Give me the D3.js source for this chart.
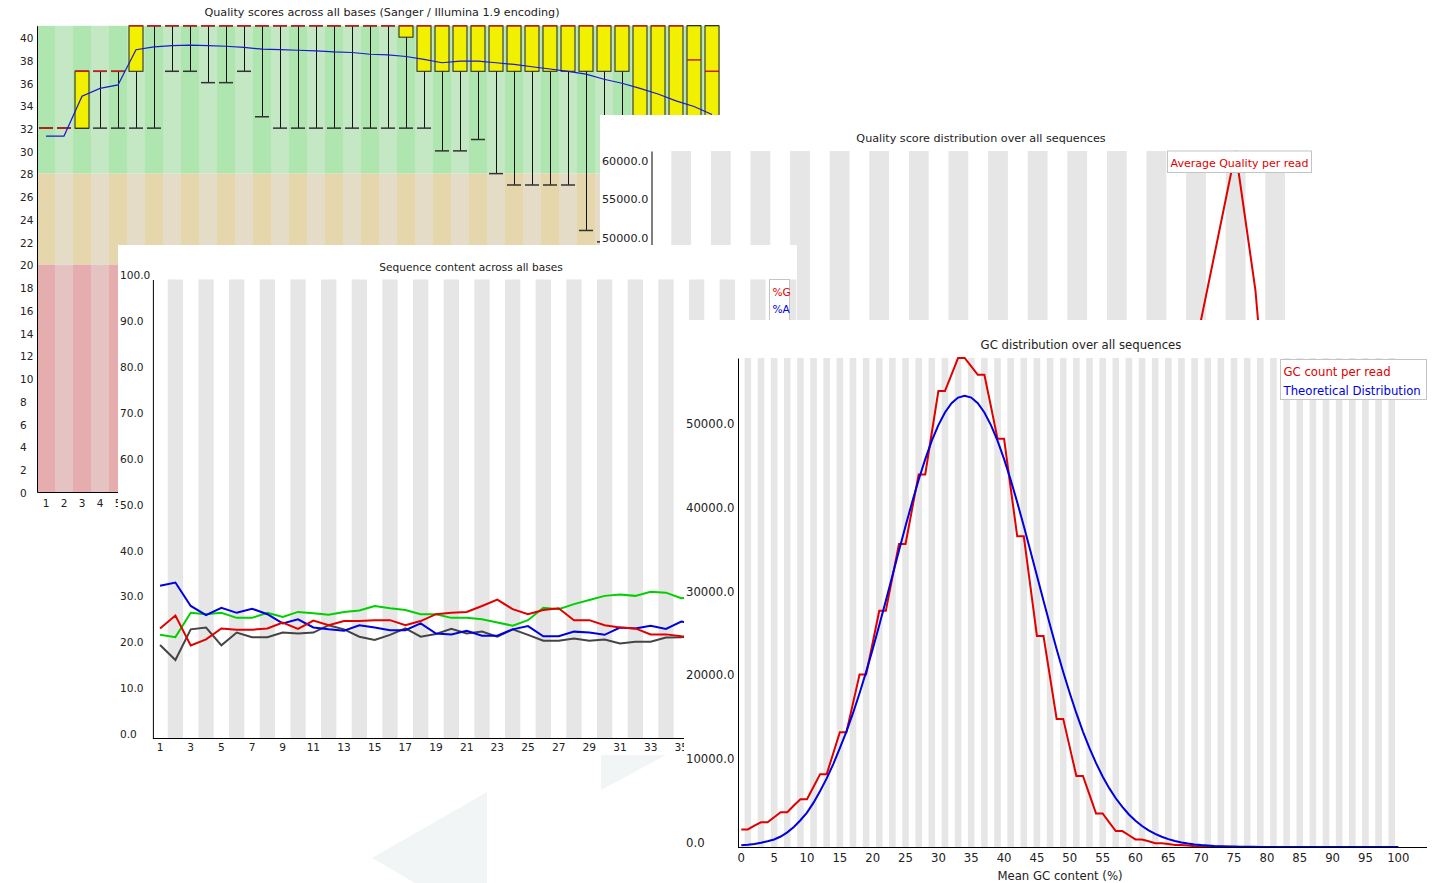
<!DOCTYPE html>
<html>
<head>
<meta charset="utf-8">
<title>FastQC panels</title>
<script src="https://d3js.org/d3.v7.min.js"></script>
<style>
  body { margin: 0; background: #fff; }
  svg text { font-family: "DejaVu Sans", sans-serif; fill: #222; }
</style>
</head>
<body>
<div id="chart"></div>
<script>
/* * * * * * * * * * * * * * * * * * *
*  values  *
* * * * * * * * * * * * * * * * * * */

// per base sequence quality (box / whisker per base)
const baseLabels = [1,2,3,4,5,6,7,8,9,10,11,12,13,14,15,16,17,18,19,20,21,22,23,24,25,26,27,28,29,30,31,32,33,34,35,36,37,38];
const qualMedian = [32,32,37,37,37,41,41,41,41,41,41,41,41,41,41,41,41,41,41,41,41,41,41,41,41,41,41,41,41,41,41,41,41,41,41,41,38,37];
const qualLower  = [32,32,32,37,37,37,41,41,41,41,41,41,41,41,41,41,41,41,41,41,40,37,37,37,37,37,37,37,37,37,37,37,37,31,30,28,27,25];
const qualUpper  = [32,32,37,37,37,41,41,41,41,41,41,41,41,41,41,41,41,41,41,41,41,41,41,41,41,41,41,41,41,41,41,41,41,41,41,41,41,41];
const qualP10    = [32,32,32,32,32,32,32,37,37,36,36,37,33,32,32,32,32,32,32,32,32,32,30,30,31,28,27,27,27,27,23,22,20,18,15,12,10,8];
const qualP90    = [32,32,37,37,37,41,41,41,41,41,41,41,41,41,41,41,41,41,41,41,41,41,41,41,41,41,41,41,41,41,41,41,41,41,41,41,41,41];
const qualMean   = [31.3,31.3,34.8,35.5,35.8,38.9,39.15,39.25,39.3,39.25,39.2,39.1,38.95,38.9,38.85,38.8,38.7,38.65,38.5,38.45,
                    38.3,38.05,37.75,37.9,37.9,37.75,37.6,37.4,37.2,37.0,36.75,36.3,35.95,35.5,35.0,34.4,33.9,33.2];
const qualTicks  = [0,2,4,6,8,10,12,14,16,18,20,22,24,26,28,30,32,34,36,38,40];
const qualXTicks = [1,2,3,4,5];   // the rest sit under the other windows

// per sequence quality scores
const seqQualScores = [9,10,11,12,13,14,15,16,17,18,19,20,21,22,23,24,25,26,27,28,29,30,31,32,33,34,35,36,37,38,39,40,41];
const seqQualCounts = [0,0,0,5,10,20,40,80,150,260,420,650,950,1350,1900,2600,3500,4600,6000,7700,9800,12400,15500,19200,23600,28500,33000,
                       36700,49200,61800,43750,14150,1500];
const seqQualTicks  = [50000,55000,60000];

// per base sequence content (%)
const contentPos = [1,2,3,4,5,6,7,8,9,10,11,12,13,14,15,16,17,18,19,20,21,22,23,24,25,26,27,28,29,30,31,32,33,34,35,36,37,38,39,40,41,42];
const pctG = [23.9,26.7,20.2,21.5,23.9,23.6,23.6,23.9,25.2,23.8,25.6,24.6,25.5,25.5,25.7,25.7,24.6,25.5,27.0,27.3,27.5,28.8,30.2,28.1,27.0,
              27.9,28.3,25.7,25.7,24.6,24.1,23.9,22.6,22.6,22.2,22.0,21.8,21.5,21.9,22.3,22.0,21.7];
const pctA = [33.2,33.9,28.8,26.8,28.4,27.3,28.2,27.0,25.0,25.9,24.1,23.7,23.4,24.6,24.1,23.5,23.5,25.0,22.8,22.6,23.4,22.3,22.3,23.7,24.4,
              22.2,22.2,23.2,23.0,22.5,24.1,23.9,24.5,23.8,25.4,24.8,25.1,24.6,25.0,24.7,25.2,25.0];
const pctT = [22.5,22.0,27.3,27.0,27.3,26.2,26.2,27.3,26.4,27.5,27.2,26.9,27.5,27.8,28.8,28.3,27.9,27.0,27.0,26.2,26.2,25.9,25.2,24.5,25.7,
              28.4,28.1,29.2,30.1,31.0,31.3,31.0,31.9,31.7,30.5,30.8,31.2,31.5,30.9,31.1,30.6,30.8];
const pctC = [20.3,17.0,23.7,24.1,20.2,23.0,22.0,22.0,23.0,22.8,23.0,24.6,23.7,22.1,21.4,22.5,23.9,22.1,22.7,23.8,22.8,23.2,22.1,23.7,22.5,
              21.2,21.2,21.7,21.2,21.5,20.6,21.0,21.0,21.9,22.0,22.4,21.9,22.4,22.2,21.9,22.2,22.5];
const contentTicks  = [0,10,20,30,40,50,60,70,80,90,100];
const contentXTicks = [1,3,5,7,9,11,13,15,17,19,21,23,25,27,29,31,33,35];

// per sequence GC content
const gcPercent = [0,1,2,3,4,5,6,7,8,9,10,11,12,13,14,15,16,17,18,19,20,21,22,23,24,25,26,27,28,29,30,31,32,33,34,35,36,37,38,39,40,
                   41,42,43,44,45,46,47,48,49,50,51,52,53,54,55,56,57,58,59,60,61,62,63,64,65,66,67,68,69,70,71,72,73,74,75,76,77,78,79,80,
                   81,82,83,84,85,86,87,88,89,90,91,92,93,94,95,96,97,98,99,100];
const gcCount = [2100,2100,2550,2950,2950,3550,4150,4150,4950,5700,5700,7200,8700,8700,11200,13700,13700,17150,20600,20600,24400,
                 28200,28200,32200,36200,36200,40350,44500,44500,49500,54450,54450,56400,58400,58400,57400,56400,56400,52600,48750,48750,
                 42900,37100,37100,31150,25200,25200,20250,15300,15300,11900,8480,8480,6250,4000,4000,2950,1900,1900,1400,900,
                 900,680,450,450,350,250,250,170,100,100,60,30,30,20,10,10,5,0,0,0,
                 0,0,0,0,0,0,0,0,0,0,0,0,0,0,0,0,0,0,0,0];
const gcTheory = [200,270,370,500,680,900,1250,1750,2400,3200,4100,5300,6700,8200,9900,11800,13780,15980,18360,20910,23620,
                  26470,29400,32390,35380,38330,41170,43860,46320,48520,50390,51900,53000,53670,53900,53670,53000,51900,50390,48520,46320,
                  43860,41170,38330,35380,32390,29400,26470,23620,20910,18360,15980,13780,11800,10010,8420,7030,5820,4780,3880,3130,
                  2510,1990,1560,1220,940,720,550,420,310,230,170,120,90,60,45,30,20,15,10,7,
                  5,3,0,0,0,0,0,0,0,0,0,0,0,0,0,0,0,0,0,0];
const gcXTicks = [0,5,10,15,20,25,30,35,40,45,50,55,60,65,70,75,80,85,90,95,100];
const gcYTicks = [0,10000,20000,30000,40000,50000];


let svg = d3.select("#chart").append("svg")
    .attr("width", 1438)
    .attr("height", 883);
let defs = svg.append("defs");

svg.append("rect").attr("width", 1438).attr("height", 883).attr("fill", "#fff");

// faint page watermark peeking out between the windows
svg.append("polygon").attr("points", "601,755 666,755 601,790").attr("fill", "#f2f5f6");
svg.append("polygon").attr("points", "487,792 372,858 415,883 487,883").attr("fill", "#f2f5f6");
svg.append("rect").attr("x", 1436).attr("y", 780).attr("width", 2).attr("height", 75).attr("fill", "#e2e2e2");
svg.append("rect").attr("x", 1436).attr("y", 855).attr("width", 2).attr("height", 28).attr("fill", "#666");

function addPanel(id, x, y, w, h) {
    defs.append("clipPath").attr("id", id)
        .append("rect").attr("x", x).attr("y", y).attr("width", w).attr("height", h);
    let g = svg.append("g").attr("clip-path", `url(#${id})`);
    g.append("rect").attr("x", x).attr("y", y).attr("width", w).attr("height", h).attr("fill", "#fff");
    return g;
}

// left aligned y labels, shifted a bit above their value like FastQC does
function yAxis(g, scale, ticks, axisX, labelX, size, fmt, shift) {
    let ax = g.append("g")
        .attr("transform", `translate(${axisX},0)`)
        .call(d3.axisLeft(scale).tickValues(ticks).tickSize(0).tickFormat(fmt));
    ax.attr("font-size", size);
    ax.select(".domain").attr("stroke", "#000");
    ax.selectAll("text")
        .attr("text-anchor", "start")
        .attr("x", labelX - axisX)
        .attr("y", shift);
    return ax;
}

function xAxis(g, scale, ticks, axisY, size, pad) {
    let ax = g.append("g")
        .attr("transform", `translate(0,${axisY})`)
        .call(d3.axisBottom(scale).tickValues(ticks).tickSize(0).tickPadding(pad));
    ax.attr("font-size", size);
    ax.select(".domain").attr("stroke", "#000");
    return ax;
}

function title(g, txt, x, y, size) {
    g.append("text").attr("x", x).attr("y", y)
        .attr("text-anchor", "middle").attr("dominant-baseline", "central")
        .attr("font-size", size).text(txt);
}

function stripes(g, scale, keys, keep, top, bottom) {
    g.selectAll(null).data(keys.filter(keep)).enter().append("rect")
        .attr("x", d => scale(d)).attr("width", scale.bandwidth())
        .attr("y", top).attr("height", bottom - top)
        .attr("fill", "#e6e6e6");
}

function legend(g, items, x, y, w, h, size, step) {
    g.append("rect").attr("x", x).attr("y", y).attr("width", w).attr("height", h)
        .attr("fill", "#fff").attr("stroke", "#c4c4c4");
    items.forEach((it, i) => {
        g.append("text").attr("x", x + 3).attr("y", y + 12.5 + i * step)
            .attr("dominant-baseline", "central").attr("font-size", size)
            .style("fill", it.color).text(it.name);
    });
}


/* ---------- 1: quality scores across all bases ---------- */
let p1 = addPanel("clip1", 0, 0, 720, 520);
let x1 = d3.scaleBand().domain(baseLabels).range([37, 37 + baseLabels.length * 18]);
let y1 = d3.scaleLinear().domain([0, 41]).range([492, 25.8]);
let cx1 = d => x1(d) + x1.bandwidth() / 2;

const zones = [
    {from: 28, to: 41, c: ["#afe5af", "#c4e7c4"]},
    {from: 20, to: 28, c: ["#e6d6ab", "#e4dcc6"]},
    {from: 0,  to: 20, c: ["#e5adad", "#e5c3c3"]}
];
zones.forEach(z => {
    p1.selectAll(null).data(baseLabels).enter().append("rect")
        .attr("x", d => x1(d)).attr("width", x1.bandwidth())
        .attr("y", y1(z.to)).attr("height", y1(z.from) - y1(z.to))
        .attr("fill", (d, i) => z.c[i % 2]);
});

let boxes = baseLabels.map((b, i) => ({
    b: b, med: qualMedian[i], lo: qualLower[i], hi: qualUpper[i], p10: qualP10[i], p90: qualP90[i]
}));
let bw = 7;

p1.selectAll(".whisker").data(boxes).enter().append("line")
    .attr("class", "whisker")
    .attr("x1", d => cx1(d.b) + 0.5).attr("x2", d => cx1(d.b) + 0.5)
    .attr("y1", d => y1(d.p90)).attr("y2", d => y1(d.p10))
    .attr("stroke", "#111");

p1.selectAll(".cap").data(boxes.flatMap(d => [{b: d.b, v: d.p10}, {b: d.b, v: d.p90}]))
    .enter().append("line")
    .attr("class", "cap")
    .attr("x1", d => cx1(d.b) - bw).attr("x2", d => cx1(d.b) + bw)
    .attr("y1", d => y1(d.v)).attr("y2", d => y1(d.v))
    .attr("stroke", "#333").attr("stroke-width", 1.5);

p1.selectAll(".box").data(boxes.filter(d => d.lo < d.hi)).enter().append("rect")
    .attr("class", "box")
    .attr("x", d => cx1(d.b) - bw).attr("width", bw * 2)
    .attr("y", d => y1(d.hi)).attr("height", d => y1(d.lo) - y1(d.hi))
    .attr("fill", "#f0f000").attr("stroke", "#222");

p1.selectAll(".median").data(boxes).enter().append("line")
    .attr("class", "median")
    .attr("x1", d => cx1(d.b) - bw).attr("x2", d => cx1(d.b) + bw)
    .attr("y1", d => y1(d.med)).attr("y2", d => y1(d.med))
    .attr("stroke", "#cc1a1a").attr("stroke-width", 1.5);

p1.append("path")
    .datum(baseLabels.map((b, i) => [cx1(b), y1(qualMean[i])]))
    .attr("d", d3.line())
    .attr("fill", "none").attr("stroke", "#1a1acc").attr("stroke-width", 1.2);

yAxis(p1, y1, qualTicks, 37, 20, 10.5, d3.format("d"), 1);
xAxis(p1, x1, qualXTicks, 492, 10.5, 7.3);
title(p1, "Quality scores across all bases (Sanger / Illumina 1.9 encoding)", 382, 12, 11.2);


/* ---------- 2: quality score distribution ---------- */
let p2 = addPanel("clip2", 600, 115, 730, 545);
let x2 = d3.scaleBand().domain(seqQualScores).range([651.5, 651.5 + seqQualScores.length * 19.8]);
let y2 = d3.scaleLinear().domain([0, 61800]).range([627, 151]);

stripes(p2, x2, seqQualScores, (d, i) => i % 2 === 1, 151, 627);

p2.append("path")
    .datum(seqQualScores.map((q, i) => [x2(q) + x2.bandwidth() / 2, y2(seqQualCounts[i])]))
    .attr("d", d3.line())
    .attr("fill", "none").attr("stroke", "#e00000").attr("stroke-width", 2);

yAxis(p2, y2, seqQualTicks, 651.5, 602, 11.2, d3.format(".1f"), -4);
title(p2, "Quality score distribution over all sequences", 981, 138, 11.2);
legend(p2, [{name: "Average Quality per read", color: "#e00000"}], 1167.5, 151, 144, 21.5, 11, 17);


/* ---------- 3: sequence content across all bases ---------- */
let p3 = addPanel("clip3", 118, 245, 679, 510);
let x3 = d3.scaleBand().domain(contentPos).range([152.4, 152.4 + contentPos.length * 15.33]);
let y3 = d3.scaleLinear().domain([0, 100]).range([738, 279.5]);

stripes(p3, x3, contentPos, d => d % 2 === 0, 279.5, 738);

const contentSeries = [
    {name: "%G", color: "#e00000", values: pctG},
    {name: "%A", color: "#0000e0", values: pctA},
    {name: "%T", color: "#00d000", values: pctT},
    {name: "%C", color: "#444444", values: pctC}
];
contentSeries.slice().reverse().forEach(s => {
    p3.append("path")
        .datum(contentPos.map((p, i) => [x3(p) + x3.bandwidth() / 2, y3(s.values[i])]))
        .attr("d", d3.line())
        .attr("fill", "none").attr("stroke", s.color).attr("stroke-width", 2);
});

yAxis(p3, y3, contentTicks, 152.9, 120, 10.6, d3.format(".1f"), -4);
xAxis(p3, x3, contentXTicks, 738, 10.6, 5);
title(p3, "Sequence content across all bases", 471, 267, 10.6);
legend(p3, contentSeries.slice(0, 2), 769.5, 279.5, 20, 72, 10.6, 17.3);


/* ---------- 4: GC distribution ---------- */
let p4 = addPanel("clip4", 684, 320, 754, 563);
let x4 = d3.scaleBand().domain(gcPercent).range([738, 738 + gcPercent.length * 6.57]);
let y4 = d3.scaleLinear().domain([0, 58400]).range([847, 358]);
let cx4 = d => x4(d) + x4.bandwidth() / 2;

stripes(p4, x4, gcPercent, d => d % 2 === 1, 358, 847);

p4.append("path")
    .datum(gcPercent.map((g, i) => [cx4(g), y4(gcCount[i])]))
    .attr("d", d3.line())
    .attr("fill", "none").attr("stroke", "#e00000").attr("stroke-width", 2);

p4.append("path")
    .datum(gcPercent.map((g, i) => [cx4(g), y4(gcTheory[i])]))
    .attr("d", d3.line())
    .attr("fill", "none").attr("stroke", "#0000e0").attr("stroke-width", 2);

yAxis(p4, y4, gcYTicks, 738, 686, 11.7, d3.format(".1f"), -4.3);
let gx = xAxis(p4, x4, gcXTicks, 847, 11.7, 6.2);
gx.select(".domain").remove();
p4.append("line")
    .attr("x1", 738).attr("x2", 1427).attr("y1", 847.5).attr("y2", 847.5)
    .attr("stroke", "#000");

title(p4, "GC distribution over all sequences", 1081, 345, 11.7);
p4.append("text").attr("x", 1060).attr("y", 876)
    .attr("text-anchor", "middle").attr("dominant-baseline", "central")
    .attr("font-size", 11.7).text("Mean GC content (%)");
legend(p4, [{name: "GC count per read", color: "#e00000"}, {name: "Theoretical Distribution", color: "#0000e0"}],
    1280.5, 359.5, 146, 40, 11.7, 19);
</script>
</body>
</html>
